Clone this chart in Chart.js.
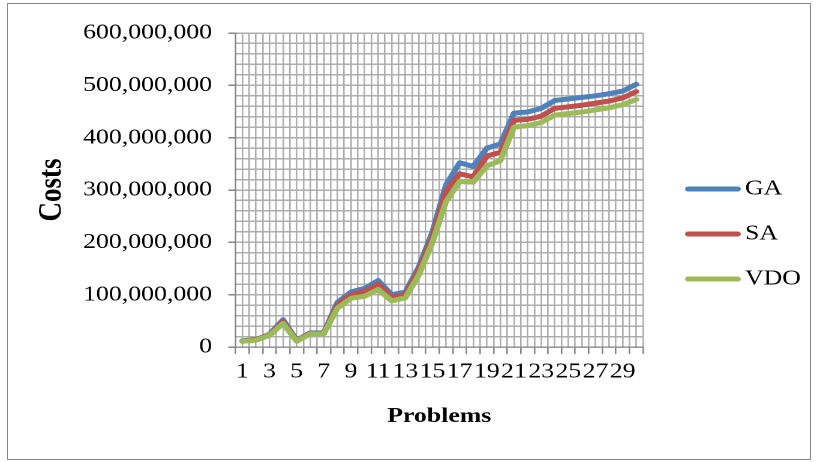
<!DOCTYPE html>
<html>
<head>
<meta charset="utf-8">
<script src="https://cdn.jsdelivr.net/npm/chart.js@4.4.0/dist/chart.umd.min.js"></script>
<style>
  html, body { margin: 0; padding: 0; background: #fff; }
  #wrap { position: relative; width: 817px; height: 462px; overflow: hidden; }
  #moldura { position: absolute; left: 7px; top: 3px; width: 802px; height: 455px; border: 1px solid #868686; }
  #grafico { position: absolute; left: 0; top: 0; transform: scaleX(1.1997); transform-origin: 0 0; }
</style>
</head>
<body>
<div id="wrap">
  <div id="moldura"></div>
  <canvas id="grafico" width="681" height="462"></canvas>
</div>
<script>
const problems = ['1', '2', '3', '4', '5', '6', '7', '8', '9', '10',
  '11', '12', '13', '14', '15', '16', '17', '18', '19', '20',
  '21', '22', '23', '24', '25', '26', '27', '28', '29', '30'];

const gaCosts = [12000000, 14000000, 24000000, 52000000, 13000000, 27000000, 27000000, 85000000, 105000000, 112000000,
  127000000, 100000000, 105000000, 153000000, 220000000, 310000000, 352000000, 345000000, 380000000, 388000000,
  447000000, 449000000, 456000000, 471000000, 474000000, 477000000, 480000000, 484000000, 489000000, 502000000];
const saCosts = [11000000, 14000000, 23000000, 48000000, 12000000, 26000000, 26000000, 80000000, 100000000, 106000000,
  120000000, 95000000, 100000000, 147000000, 211000000, 297000000, 331000000, 325000000, 365000000, 372000000,
  433000000, 435000000, 441000000, 456000000, 459000000, 462000000, 466000000, 470000000, 476000000, 488000000];
const vdoCosts = [11000000, 13000000, 22000000, 45000000, 11000000, 25000000, 25000000, 74000000, 93000000, 97000000,
  110000000, 88000000, 94000000, 138000000, 200000000, 278000000, 316000000, 315000000, 346000000, 356000000,
  420000000, 423000000, 429000000, 443000000, 446000000, 449000000, 453000000, 457000000, 463000000, 473000000];

const yMax = 600000000;
const yMinorStep = 20000000;
const yMajorStep = 100000000;

const fonte = '"Liberation Serif", "Times New Roman", serif';
const corGrade = '#adadad';
const corEixo = '#868686';

// legenda desenhada a direita, no estilo do Excel
const legendaLateral = {
  id: 'legendaLateral',
  afterDraw(chart) {
    const ctx = chart.ctx;
    ctx.save();
    ctx.font = '21.5px ' + fonte;
    ctx.textBaseline = 'middle';
    ctx.lineCap = 'round';
    ctx.lineWidth = 5;
    chart.data.datasets.forEach(function (ds, i) {
      const y = 189 + 45 * i;
      ctx.strokeStyle = ds.borderColor;
      ctx.beginPath();
      ctx.moveTo(573.5, y);
      ctx.lineTo(615, y);
      ctx.stroke();
      ctx.fillStyle = '#000';
      ctx.fillText(ds.label, 621, y);
    });
    ctx.restore();
  }
};

function serie(label, data, cor, ordem) {
  return {
    label: label,
    data: data,
    borderColor: cor,
    backgroundColor: cor,
    borderWidth: 5,
    borderCapStyle: 'round',
    borderJoinStyle: 'round',
    pointRadius: 0,
    tension: 0,
    order: ordem
  };
}

new Chart(document.getElementById('grafico'), {
  type: 'line',
  data: {
    labels: problems,
    datasets: [
      serie('GA', gaCosts, '#4f81bd', 2),
      serie('SA', saCosts, '#c0504d', 1),
      serie('VDO', vdoCosts, '#9bbb59', 0)
    ]
  },
  plugins: [legendaLateral],
  options: {
    responsive: false,
    devicePixelRatio: 2,
    animation: false,
    layout: { padding: { left: 6, top: 33, right: 145, bottom: 4 } },
    plugins: { legend: { display: false }, tooltip: { enabled: false } },
    scales: {
      x: {
        type: 'category',
        offset: true,
        grid: { offset: true, color: corGrade, lineWidth: 1.3, tickLength: 7, tickColor: corEixo },
        border: { color: corEixo, width: 1 },
        ticks: {
          autoSkip: false,
          maxRotation: 0,
          padding: 5,
          color: '#000',
          font: { family: fonte, size: 21.5 },
          callback: function (value, index) { return index % 2 === 0 ? this.getLabelForValue(value) : ''; }
        },
        title: {
          display: true,
          text: 'Problems',
          color: '#000',
          font: { family: fonte, size: 21.5, weight: 'bold' },
          padding: { top: 0, bottom: 28.7 }
        },
        afterFit: function (scale) { scale.height = 111; }
      },
      // linhas de grade secundarias no centro de cada categoria
      xCentro: {
        type: 'category',
        display: true,
        position: 'top',
        offset: true,
        grid: { offset: false, color: corGrade, lineWidth: 1.3, drawTicks: false },
        border: { display: false },
        ticks: { display: false, autoSkip: false }
      },
      y: {
        min: 0,
        max: yMax,
        grid: {
          color: corGrade,
          lineWidth: 1.5,
          tickLength: 6,
          tickColor: function (c) { return c.tick && c.tick.value % yMajorStep === 0 ? corEixo : 'rgba(0,0,0,0)'; }
        },
        border: { color: corEixo, width: 1 },
        ticks: {
          stepSize: yMinorStep,
          maxTicksLimit: 100,
          autoSkip: false,
          padding: 13.6,
          color: '#000',
          font: { family: fonte, size: 21.5 },
          callback: function (value) { return value % yMajorStep === 0 ? value.toLocaleString('en-US') : ''; }
        },
        title: {
          display: true,
          text: 'Costs',
          color: '#000',
          font: { family: fonte, size: 27, weight: 'bold' },
          padding: { top: 21.1, bottom: 0 }
        },
        afterFit: function (scale) { scale.width = 190.3; }
      }
    }
  }
});
</script>
</body>
</html>
